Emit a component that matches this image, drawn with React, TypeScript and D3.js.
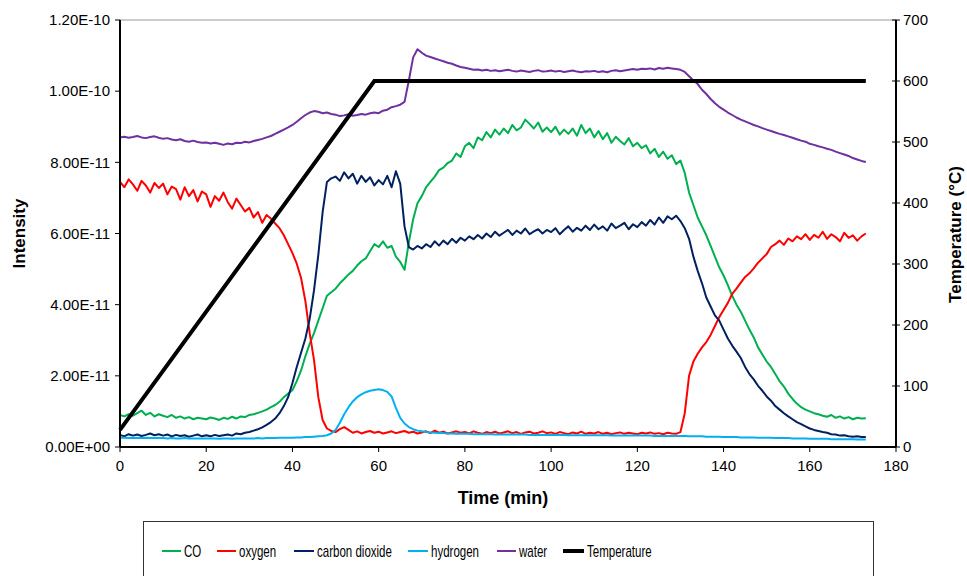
import * as d3 from "d3";

// time in minutes, one reading per minute (0 .. 173)
const minutes: number[] = d3.range(0, 174);

// intensities in units of 1E-11
const co = [
  0.90, 0.86, 0.92, 0.88, 0.95, 1.02, 0.90, 0.96, 0.86, 0.92,
  0.88, 0.84, 0.90, 0.82, 0.86, 0.80, 0.84, 0.78, 0.82, 0.80,
  0.78, 0.83, 0.80, 0.76, 0.82, 0.79, 0.85, 0.80, 0.86, 0.84,
  0.90, 0.92, 0.96, 1.00, 1.05, 1.12, 1.18, 1.27, 1.40, 1.50,
  1.60, 1.85, 2.15, 2.55, 2.90, 3.20, 3.55, 3.90, 4.25, 4.35,
  4.45, 4.60, 4.72, 4.85, 4.95, 5.10, 5.22, 5.30, 5.50, 5.70,
  5.62, 5.78, 5.60, 5.65, 5.35, 5.20, 4.98, 5.75, 6.40, 6.85,
  7.05, 7.30, 7.45, 7.60, 7.78, 7.85, 7.98, 8.05, 8.25, 8.15,
  8.45, 8.55, 8.40, 8.70, 8.62, 8.85, 8.70, 8.92, 8.78, 8.95,
  8.82, 9.05, 8.90, 8.98, 9.20, 9.08, 8.95, 9.12, 8.86, 8.98,
  8.85, 9.00, 8.78, 8.92, 8.80, 8.95, 8.75, 9.05, 8.82, 8.95,
  8.70, 8.88, 8.65, 8.82, 8.55, 8.72, 8.60, 8.50, 8.68, 8.45,
  8.55, 8.40, 8.48, 8.25, 8.38, 8.15, 8.30, 8.10, 8.20, 7.95,
  8.05, 7.70, 7.15, 6.80, 6.45, 6.20, 5.95, 5.65, 5.35, 5.05,
  4.82, 4.55, 4.25, 4.00, 3.80, 3.55, 3.30, 3.08, 2.80, 2.60,
  2.40, 2.25, 2.05, 1.85, 1.70, 1.50, 1.35, 1.22, 1.12, 1.05,
  1.00, 0.95, 0.92, 0.88, 0.85, 0.90, 0.82, 0.86, 0.80, 0.84,
  0.78, 0.82, 0.80, 0.81,
];

const oxygen = [
  7.45, 7.30, 7.52, 7.38, 7.20, 7.48, 7.35, 7.15, 7.42, 7.28,
  7.40, 7.10, 7.32, 7.25, 6.95, 7.30, 7.05, 7.22, 6.90, 7.18,
  7.10, 6.75, 7.05, 6.92, 7.15, 6.88, 6.70, 6.98, 6.80, 6.62,
  6.72, 6.45, 6.60, 6.30, 6.52, 6.42, 6.28, 6.15, 5.95, 5.70,
  5.45, 5.15, 4.75, 4.10, 3.20, 2.45, 1.40, 0.76, 0.52, 0.45,
  0.42, 0.50, 0.56, 0.48, 0.40, 0.44, 0.38, 0.42, 0.45, 0.40,
  0.43, 0.38, 0.41, 0.44, 0.39, 0.42, 0.45, 0.40, 0.43, 0.38,
  0.41, 0.44, 0.39, 0.46, 0.40, 0.43, 0.38, 0.41, 0.44, 0.40,
  0.42, 0.38, 0.44, 0.40, 0.37, 0.42, 0.39, 0.43, 0.38, 0.41,
  0.44, 0.39, 0.42, 0.37, 0.41, 0.43, 0.38, 0.40, 0.44, 0.39,
  0.41, 0.37, 0.42, 0.39, 0.36, 0.41, 0.38, 0.43, 0.37, 0.40,
  0.38, 0.42, 0.37, 0.40, 0.36, 0.39, 0.41, 0.37, 0.40, 0.38,
  0.36, 0.40, 0.38, 0.41, 0.37, 0.39, 0.36, 0.40, 0.38, 0.37,
  0.42, 0.95, 2.00, 2.40, 2.62, 2.80, 2.95, 3.15, 3.40, 3.65,
  3.85, 4.05, 4.30, 4.45, 4.62, 4.78, 4.88, 5.02, 5.18, 5.30,
  5.42, 5.62, 5.70, 5.80, 5.68, 5.86, 5.78, 5.92, 5.84, 5.98,
  5.82, 5.96, 5.88, 6.05, 5.85, 5.98, 5.90, 5.78, 6.02, 5.88,
  5.95, 5.80, 5.92, 6.00,
];

const carbonDioxide = [
  0.34, 0.30, 0.36, 0.32, 0.35, 0.31, 0.34, 0.38, 0.33, 0.36,
  0.32, 0.35, 0.30, 0.34, 0.31, 0.33, 0.29, 0.32, 0.35, 0.30,
  0.33, 0.30, 0.34, 0.31, 0.33, 0.35, 0.32, 0.38, 0.36, 0.40,
  0.42, 0.46, 0.50, 0.55, 0.62, 0.70, 0.80, 0.95, 1.15, 1.40,
  1.80, 2.25, 2.65, 3.05, 3.60, 4.40, 5.40, 6.60, 7.45, 7.55,
  7.60, 7.48, 7.72, 7.55, 7.68, 7.40, 7.62, 7.45, 7.58, 7.35,
  7.50, 7.38, 7.62, 7.30, 7.75, 7.40, 6.20, 5.62, 5.55, 5.65,
  5.58, 5.70, 5.62, 5.78, 5.66, 5.80, 5.70, 5.85, 5.74, 5.88,
  5.80, 5.92, 5.84, 5.96, 5.86, 6.00, 5.90, 6.05, 5.94, 6.02,
  6.10, 5.96, 6.08, 6.00, 6.14, 5.98, 6.06, 6.12, 6.00, 6.10,
  6.04, 6.15, 5.98, 6.10, 6.20, 6.05, 6.16, 6.08, 6.22, 6.10,
  6.25, 6.12, 6.20, 6.08, 6.28, 6.15, 6.22, 6.30, 6.12, 6.26,
  6.18, 6.32, 6.22, 6.38, 6.25, 6.45, 6.30, 6.48, 6.40, 6.50,
  6.35, 6.15, 5.85, 5.35, 4.95, 4.60, 4.20, 3.95, 3.70, 3.55,
  3.30, 3.05, 2.85, 2.68, 2.50, 2.25, 2.05, 1.90, 1.72, 1.58,
  1.42, 1.30, 1.15, 1.05, 0.95, 0.86, 0.78, 0.70, 0.64, 0.58,
  0.52, 0.48, 0.45, 0.42, 0.40, 0.36, 0.35, 0.32, 0.33, 0.30,
  0.29, 0.30, 0.28, 0.28,
];

const hydrogen = [
  0.26, 0.26, 0.25, 0.26, 0.25, 0.25, 0.26, 0.25, 0.25, 0.25,
  0.25, 0.24, 0.25, 0.24, 0.24, 0.25, 0.24, 0.24, 0.24, 0.24,
  0.24, 0.24, 0.24, 0.23, 0.24, 0.24, 0.23, 0.24, 0.24, 0.24,
  0.24, 0.24, 0.25, 0.24, 0.25, 0.25, 0.25, 0.26, 0.26, 0.26,
  0.26, 0.27, 0.27, 0.28, 0.28, 0.29, 0.30, 0.31, 0.33, 0.38,
  0.48, 0.68, 0.92, 1.12, 1.28, 1.40, 1.48, 1.54, 1.58, 1.60,
  1.62, 1.60, 1.55, 1.42, 1.10, 0.82, 0.66, 0.56, 0.50, 0.46,
  0.44, 0.42, 0.41, 0.40, 0.39, 0.39, 0.38, 0.38, 0.37, 0.37,
  0.37, 0.37, 0.36, 0.36, 0.36, 0.36, 0.36, 0.35, 0.35, 0.35,
  0.35, 0.35, 0.35, 0.35, 0.35, 0.34, 0.34, 0.34, 0.34, 0.34,
  0.34, 0.34, 0.34, 0.34, 0.33, 0.33, 0.33, 0.33, 0.33, 0.33,
  0.33, 0.33, 0.33, 0.33, 0.32, 0.32, 0.32, 0.32, 0.32, 0.32,
  0.32, 0.32, 0.32, 0.32, 0.31, 0.31, 0.31, 0.31, 0.31, 0.31,
  0.31, 0.31, 0.30, 0.30, 0.30, 0.30, 0.29, 0.29, 0.29, 0.29,
  0.28, 0.28, 0.28, 0.28, 0.27, 0.27, 0.27, 0.27, 0.26, 0.26,
  0.26, 0.26, 0.25, 0.25, 0.25, 0.25, 0.24, 0.24, 0.24, 0.24,
  0.23, 0.23, 0.23, 0.23, 0.23, 0.22, 0.22, 0.22, 0.22, 0.22,
  0.22, 0.21, 0.21, 0.21,
];

const water = [
  8.70, 8.72, 8.69, 8.71, 8.74, 8.70, 8.68, 8.71, 8.73, 8.69,
  8.66, 8.68, 8.64, 8.62, 8.65, 8.60, 8.58, 8.61, 8.57, 8.55,
  8.56, 8.53, 8.55, 8.52, 8.49, 8.53, 8.51, 8.55, 8.54, 8.58,
  8.56, 8.60, 8.63, 8.66, 8.70, 8.74, 8.80, 8.86, 8.92, 8.98,
  9.05, 9.14, 9.24, 9.33, 9.40, 9.44, 9.42, 9.38, 9.40, 9.36,
  9.34, 9.30, 9.32, 9.35, 9.31, 9.33, 9.36, 9.34, 9.38, 9.40,
  9.38, 9.45, 9.48, 9.55, 9.58, 9.62, 9.70, 10.30, 10.95, 11.18,
  11.08, 11.00, 10.96, 10.92, 10.88, 10.84, 10.80, 10.77, 10.72, 10.68,
  10.66, 10.63, 10.60, 10.61, 10.58, 10.60, 10.57, 10.59, 10.56, 10.58,
  10.60, 10.57, 10.55, 10.58, 10.56, 10.54, 10.57, 10.59, 10.55, 10.56,
  10.58, 10.55, 10.57, 10.54, 10.56, 10.58, 10.55, 10.53, 10.56, 10.55,
  10.57, 10.54, 10.56, 10.53, 10.57, 10.59, 10.56, 10.58, 10.60, 10.62,
  10.60, 10.63, 10.62, 10.64, 10.61, 10.65, 10.63, 10.66, 10.64, 10.62,
  10.60, 10.54, 10.42, 10.30, 10.20, 10.04, 9.92, 9.78, 9.66, 9.56,
  9.48, 9.40, 9.33, 9.26, 9.20, 9.15, 9.10, 9.05, 9.01, 8.96,
  8.92, 8.88, 8.84, 8.80, 8.77, 8.73, 8.69, 8.65, 8.61, 8.58,
  8.52, 8.49, 8.45, 8.42, 8.38, 8.35, 8.30, 8.26, 8.22, 8.18,
  8.12, 8.08, 8.04, 8.01,
];
const waterInitial = 0; // first reading at t=0 before the signal settles

// temperature programme (°C): ramp then hold
const tempTimes = [0, 59, 173];
const tempValues = [28, 600, 600];

const seriesNames = ["CO", "oxygen", "carbon dioxide", "hydrogen", "water"];
const seriesColors = ["#00b050", "#ff0000", "#002060", "#00b0f0", "#7030a0"];

const xTicks = [0, 20, 40, 60, 80, 100, 120, 140, 160, 180];
const yTicks = [0, 2e-11, 4e-11, 6e-11, 8e-11, 1e-10, 1.2e-10];
const y2Ticks = [0, 100, 200, 300, 400, 500, 600, 700];

const UNIT = 1e-11;
const W = 967;
const H = 576;
const m = { left: 120, right: 896, top: 20, bottom: 447 };
const font = "'Liberation Sans', Arial, sans-serif";

function sci(v: number) {
  const [mant, exp] = d3.format(".2e")(v).split("e");
  const sign = exp[0] === "-" ? "-" : "+";
  const digits = exp.replace(/[-+]/, "").padStart(2, "0");
  return `${mant}E${sign}${digits}`;
}

// legend text is a narrow face in the original; squeeze the regular one
function LegendLabel({ x, label }: { x: number; label: string }) {
  return (
    <text transform={`translate(${x}, 551) scale(0.72, 1)`} dy="0.35em" fontSize={16}>
      {label}
    </text>
  );
}

export default function App() {
  const x = d3.scaleLinear().domain([0, 180]).range([m.left, m.right]);
  const y = d3.scaleLinear().domain([0, 1.2e-10]).range([m.bottom, m.top]);
  const y2 = d3.scaleLinear().domain([0, 700]).range([m.bottom, m.top]);

  const line = d3
    .line<[number, number]>()
    .x((d) => x(d[0]))
    .y((d) => y(d[1] * UNIT));

  const seriesData = [co, oxygen, carbonDioxide, hydrogen, water].map((vals, i) => {
    const pts: [number, number][] = vals.map((v, j) => [minutes[j], v]);
    if (i === 4) pts.unshift([0, waterInitial]);
    return pts;
  });

  const tempLine = d3
    .line<number>()
    .x((_, i) => x(tempTimes[i]))
    .y((d) => y2(d));

  const legendItems = [
    { name: "CO", x: 162, w: 19 },
    { name: "oxygen", x: 217, w: 19 },
    { name: "carbon dioxide", x: 294, w: 20 },
    { name: "hydrogen", x: 408, w: 20 },
    { name: "water", x: 497, w: 19 },
  ];
  const midY = (m.top + m.bottom) / 2;

  return (
    <svg
      width={W}
      height={H}
      style={{ position: "absolute", left: 0, top: 0, background: "#fff" }}
      fontFamily={font}
    >
      <rect width={W} height={H} fill="#fff" />
      {/* plot area top border */}
      <line x1={m.left} x2={m.right} y1={m.top} y2={m.top} stroke="#999" strokeWidth={1} />

      {/* series */}
      {seriesData.map((pts, i) => (
        <path
          key={seriesNames[i]}
          d={line(pts) ?? ""}
          fill="none"
          stroke={seriesColors[i]}
          strokeWidth={2}
          strokeLinejoin="round"
        />
      ))}
      <path d={tempLine(tempValues) ?? ""} fill="none" stroke="#000" strokeWidth={4} />

      {/* left axis */}
      <line x1={m.left} x2={m.left} y1={m.top} y2={m.bottom} stroke="#000" strokeWidth={2} />
      {yTicks.map((t) => (
        <g key={t}>
          <line x1={m.left - 5} x2={m.left} y1={y(t)} y2={y(t)} stroke="#000" />
          <text x={m.left - 10} y={y(t)} dy="0.35em" textAnchor="end" fontSize={15} fill="#000">
            {sci(t)}
          </text>
        </g>
      ))}

      {/* right axis */}
      <line x1={m.right} x2={m.right} y1={m.top} y2={m.bottom} stroke="#000" strokeWidth={2} />
      {y2Ticks.map((t) => (
        <g key={t}>
          <line x1={m.right - 4} x2={m.right + 4} y1={y2(t)} y2={y2(t)} stroke="#000" />
          <text x={m.right + 7} y={y2(t)} dy="0.35em" fontSize={15} fill="#000">
            {t}
          </text>
        </g>
      ))}

      {/* bottom axis */}
      <line x1={m.left} x2={m.right} y1={m.bottom} y2={m.bottom} stroke="#000" strokeWidth={2} />
      {xTicks.map((t) => (
        <g key={t}>
          <line x1={x(t)} x2={x(t)} y1={m.bottom} y2={m.bottom + 5} stroke="#000" />
          <text x={x(t)} y={m.bottom + 24} textAnchor="middle" fontSize={15} fill="#000">
            {t}
          </text>
        </g>
      ))}

      {/* axis titles */}
      <text x={503} y={504} textAnchor="middle" fontSize={18} fontWeight="bold">
        Time (min)
      </text>
      <text
        transform={`translate(25, ${midY}) rotate(-90)`}
        textAnchor="middle"
        fontSize={17}
        fontWeight="bold"
      >
        Intensity
      </text>
      <text
        transform={`translate(961, ${midY + 1}) rotate(-90)`}
        textAnchor="middle"
        fontSize={17}
        fontWeight="bold"
      >
        Temperature (°C)
      </text>

      {/* legend */}
      <rect x={143.5} y={521.5} width={730} height={80} fill="#fff" stroke="#333" strokeWidth={1} />
      {legendItems.map((it, i) => (
        <g key={it.name}>
          <line x1={it.x} x2={it.x + it.w} y1={551} y2={551} stroke={seriesColors[i]} strokeWidth={2} />
          <LegendLabel x={it.x + it.w + 3} label={it.name} />
        </g>
      ))}
      <line x1={563} x2={584} y1={551} y2={551} stroke="#000" strokeWidth={4} />
      <LegendLabel x={587} label="Temperature" />
    </svg>
  );
}
